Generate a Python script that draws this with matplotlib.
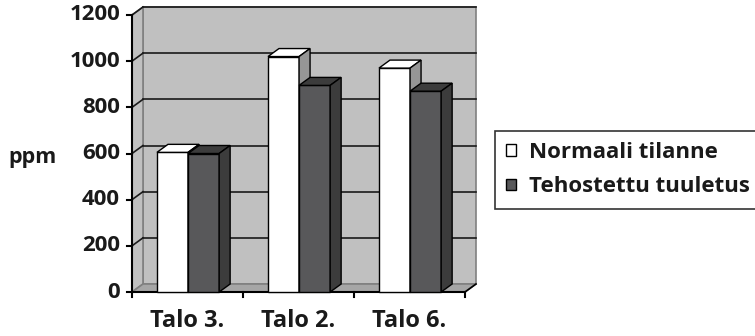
import matplotlib
matplotlib.use("Agg")
import matplotlib.pyplot as plt
from matplotlib.patches import Polygon, Patch

plt.rcParams['font.family'] = ['Open Sans', 'DejaVu Sans']
plt.rcParams['font.weight'] = 'bold'

categories = ["Talo 3.", "Talo 2.", "Talo 6."]
series_names = ["Normaali tilanne", "Tehostettu tuuletus"]
normaali = [605, 1020, 970]
tehostettu = [600, 895, 870]
yticks = [0, 200, 400, 600, 800, 1000, 1200]
ylabel = "ppm"

W, H = 755, 336
fig = plt.figure(figsize=(W / 100, H / 100), dpi=100)
# front plane of the plot in pixels: x 132..465, y 292 (0) .. 15 (1200)
ax = fig.add_axes([132 / W, (H - 292) / H, (465 - 132) / W, (292 - 15) / H])
ax.set_xlim(0, len(categories))
ax.set_ylim(0, 1200)
ax.axis('off')

# depth offset (pixels) converted to data units
px_x = (465 - 132) / len(categories)
px_y = (292 - 15) / 1200
dx = 11 / px_x
dy = 8 / px_y
ymax = yticks[-1]
n = len(categories)

wall_c = '#c0c0c0'
floor_c = '#a6a6a6'
edge_gray = '#808080'
txt_c = '#1a1a1a'

def poly(pts, fc, ec, lw=1.0, z=1):
    p = Polygon(pts, closed=True, facecolor=fc, edgecolor=ec, linewidth=lw,
                zorder=z, clip_on=False, joinstyle='miter')
    ax.add_patch(p)

# back wall
poly([(dx, dy), (n + dx, dy), (n + dx, ymax + dy), (dx, ymax + dy)], wall_c, edge_gray, 1.2, 1)
# side wall
poly([(0, 0), (dx, dy), (dx, ymax + dy), (0, ymax)], wall_c, edge_gray, 1.2, 1)
# floor
poly([(0, 0), (n, 0), (n + dx, dy), (dx, dy)], floor_c, edge_gray, 1.2, 1)

# gridlines
for v in yticks[1:]:
    ax.plot([dx, n + dx], [v + dy, v + dy], color='#1a1a1a', lw=1.2, zorder=2, clip_on=False)
    ax.plot([0, dx], [v, v + dy], color='#1a1a1a', lw=1.2, zorder=2, clip_on=False)

# axes lines and ticks
ax.plot([0, 0], [0, ymax], color='black', lw=1.5, zorder=6, clip_on=False)
ax.plot([0, n], [0, 0], color='black', lw=1.5, zorder=6, clip_on=False)
ax.plot([n, n + dx], [0, dy], color='black', lw=1.2, zorder=6, clip_on=False)
tick_dx = 5 / px_x
tick_dy = 5 / px_y
for v in yticks:
    ax.plot([-tick_dx, 0], [v, v], color='black', lw=1.5, zorder=6, clip_on=False)
    ax.text(-12 / px_x, v, str(v), ha='right', va='center', fontsize=16,
            fontweight='bold', color=txt_c)
for i in range(n + 1):
    ax.plot([i, i], [0, -tick_dy], color='black', lw=1.5, zorder=6, clip_on=False)
for i, c in enumerate(categories):
    ax.text(i + 0.5, -29 / px_y, c, ha='center', va='center', fontsize=17,
            fontweight='bold', color=txt_c)

# bars
bw = 0.28
styles = [
    dict(front='#ffffff', top='#ffffff', side='#969696'),
    dict(front='#58585a', top='#3c3c3c', side='#3c3c3c'),
]
for i in range(n):
    for s, vals in enumerate([normaali, tehostettu]):
        x0 = i + 0.225 + s * bw
        h = vals[i]
        st = styles[s]
        z = 10 + i * 3 + s
        poly([(x0, 0), (x0 + bw, 0), (x0 + bw, h), (x0, h)], st['front'], 'black', 1.0, z)
        poly([(x0, h), (x0 + bw, h), (x0 + bw + dx, h + dy), (x0 + dx, h + dy)], st['top'], 'black', 1.0, z)
        poly([(x0 + bw, 0), (x0 + bw + dx, dy), (x0 + bw + dx, h + dy), (x0 + bw, h)], st['side'], 'black', 1.0, z)

fig.text(8 / W, 1 - 157 / H, ylabel, ha='left', va='center', fontsize=15.5,
         fontweight='bold', color=txt_c)

handles = [Patch(facecolor=styles[0]['front'], edgecolor='black', linewidth=1.0),
           Patch(facecolor=styles[1]['front'], edgecolor='black', linewidth=1.0)]
leg = fig.legend(handles, series_names, loc='upper left',
                 bbox_to_anchor=(495 / W, 1 - 131 / H), bbox_transform=fig.transFigure,
                 frameon=True, fancybox=False, shadow=False,
                 handlelength=0.45, handleheight=0.45, handletextpad=0.6,
                 labelspacing=0.6, borderpad=0.5, borderaxespad=0,
                 prop={'family': ['Open Sans', 'DejaVu Sans'], 'weight': 'bold', 'size': 16})
leg.get_frame().set_edgecolor('black')
leg.get_frame().set_linewidth(1.2)
for t in leg.get_texts():
    t.set_color(txt_c)

fig.savefig('out.png', dpi=100)
